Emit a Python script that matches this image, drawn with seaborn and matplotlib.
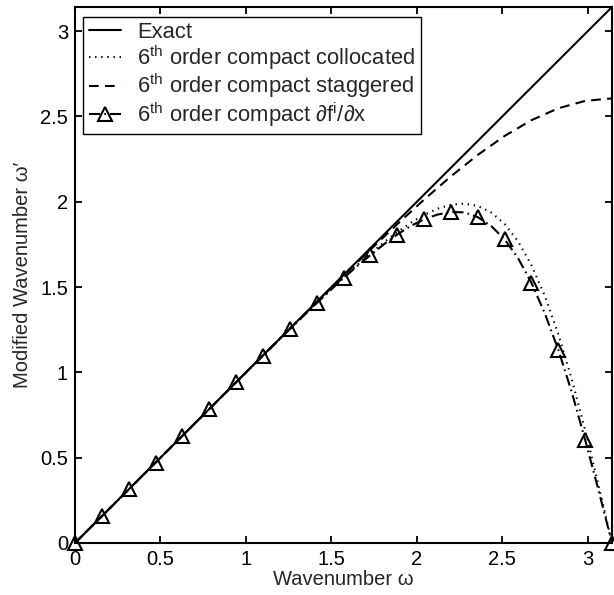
import matplotlib
matplotlib.use("Agg")
import matplotlib.pyplot as plt
import seaborn as sns
import numpy as np
import pandas as pd
from matplotlib.lines import Line2D

# ---- data ----
exact_w = [0.0, 3.14159]
exact_y = [0.0, 3.14159]

# fine grid, step pi/40
w_fine = [0.0000, 0.0785, 0.1571, 0.2356, 0.3142, 0.3927, 0.4712, 0.5498, 0.6283, 0.7069,
          0.7854, 0.8639, 0.9425, 1.0210, 1.0996, 1.1781, 1.2566, 1.3352, 1.4137, 1.4923,
          1.5708, 1.6493, 1.7279, 1.8064, 1.8850, 1.9635, 2.0420, 2.1206, 2.1991, 2.2777,
          2.3562, 2.4347, 2.5133, 2.5918, 2.6704, 2.7489, 2.8274, 2.9060, 2.9845, 3.0631,
          3.1416]
collocated = [0.0000, 0.0785, 0.1571, 0.2356, 0.3142, 0.3927, 0.4712, 0.5498, 0.6283, 0.7069,
              0.7853, 0.8637, 0.9421, 1.0200, 1.0985, 1.1755, 1.2538, 1.3300, 1.4069, 1.4815,
              1.5556, 1.6272, 1.6961, 1.7615, 1.8222, 1.8766, 1.9231, 1.9593, 1.9825, 1.9893,
              1.9758, 1.9377, 1.8702, 1.7686, 1.6287, 1.4476, 1.2243, 0.9607, 0.6622, 0.3380,
              0.0000]
dfdx = [0.0000, 0.0785, 0.1571, 0.2356, 0.3142, 0.3927, 0.4712, 0.5498, 0.6283, 0.7069,
        0.7853, 0.8638, 0.9420, 1.0203, 1.0982, 1.1760, 1.2532, 1.3298, 1.4053, 1.4795,
        1.5525, 1.6220, 1.6870, 1.7500, 1.8080, 1.8580, 1.8970, 1.9250, 1.9400, 1.9380,
        1.9100, 1.8580, 1.7800, 1.6700, 1.5250, 1.3450, 1.1330, 0.8850, 0.6040, 0.3080,
        0.0000]

# coarse grid, step pi/20
w_coarse = [0.0000, 0.1571, 0.3142, 0.4712, 0.6283, 0.7854, 0.9425, 1.0996, 1.2566, 1.4137,
            1.5708, 1.7279, 1.8850, 2.0420, 2.1991, 2.3562, 2.5133, 2.6704, 2.8274, 2.9845,
            3.1416]
staggered = [0.0000, 0.1571, 0.3142, 0.4712, 0.6283, 0.7854, 0.9425, 1.0992, 1.2557, 1.4116,
             1.5663, 1.7189, 1.8682, 2.0124, 2.1489, 2.2746, 2.3857, 2.4782, 2.5479, 2.5913,
             2.6061]

x_ticks = [0, 0.5, 1, 1.5, 2, 2.5, 3]
y_ticks = [0, 0.5, 1, 1.5, 2, 2.5, 3]
tick_labels = ["0", "0.5", "1", "1.5", "2", "2.5", "3"]

labels = ["Exact",
          r"6$^{\rm th}$ order compact collocated",
          r"6$^{\rm th}$ order compact staggered",
          r"6$^{\rm th}$ order compact ∂f$^{\rm i}$/∂x"]

# ---- style ----
sns.set_style("ticks")
plt.rcParams["font.family"] = ["Liberation Sans", "DejaVu Sans"]
plt.rcParams["mathtext.fontset"] = "custom"
plt.rcParams["mathtext.rm"] = "Liberation Sans"
plt.rcParams["mathtext.it"] = "Liberation Sans:italic"
plt.rcParams["mathtext.bf"] = "Liberation Sans:bold"
plt.rcParams["lines.scale_dashes"] = False

FS = 14.5
LFS = 15.8
fig = plt.figure(figsize=(6.14, 5.95), dpi=100)
ax = fig.add_axes([75/614, 52/595, 537/614, 536/595])

lw = 1.5
dot_ls = (0, (1.0, 3.4))
dash_ls = (0, (7, 4.5))
dashdot_ls = (0, (8, 3, 1.2, 3))
sns.lineplot(x=exact_w, y=exact_y, ax=ax, color="black", lw=lw, sort=False, estimator=None)
sns.lineplot(x=w_fine, y=collocated, ax=ax, color="black", lw=lw, sort=False, estimator=None,
             linestyle=dot_ls)
sns.lineplot(x=w_coarse, y=staggered, ax=ax, color="black", lw=lw, sort=False, estimator=None,
             linestyle=dash_ls)
sns.lineplot(x=w_fine, y=dfdx, ax=ax, color="black", lw=lw, sort=False, estimator=None,
             linestyle=dashdot_ls, marker="^", markevery=2, markersize=9.5,
             markerfacecolor="none", markeredgecolor="black", markeredgewidth=1.5,
             clip_on=False)

ax.set_xlim(0, np.pi)
ax.set_ylim(0, np.pi)
ax.set_xticks(x_ticks)
ax.set_xticklabels(tick_labels)
ax.set_yticks(y_ticks)
ax.set_yticklabels(tick_labels)
ax.tick_params(direction="in", top=True, right=True, length=5, width=1.3,
               labelsize=FS, pad=5, colors="black")
for s in ax.spines.values():
    s.set_linewidth(1.5)
    s.set_color("black")

ax.set_xlabel("Wavenumber ω", fontsize=FS, labelpad=1)
ax.set_ylabel("Modified Wavenumber ω′", fontsize=FS, labelpad=6)

handles = [
    Line2D([], [], color="black", lw=lw),
    Line2D([], [], color="black", lw=lw, linestyle=dot_ls),
    Line2D([], [], color="black", lw=lw, linestyle=dash_ls),
    Line2D([], [], color="black", lw=lw, linestyle=dashdot_ls, marker="^",
           markersize=9.5, markerfacecolor="none", markeredgecolor="black", markeredgewidth=1.5),
]
leg = ax.legend(handles, labels, loc="upper left", bbox_to_anchor=(0.015, 0.982),
                borderaxespad=0, fontsize=LFS, frameon=True, fancybox=False,
                edgecolor="black", framealpha=1, handlelength=1.5, handletextpad=0.7,
                labelspacing=0.0, borderpad=0.25)
leg.get_frame().set_linewidth(1.0)

fig.savefig("out.png", dpi=100)
